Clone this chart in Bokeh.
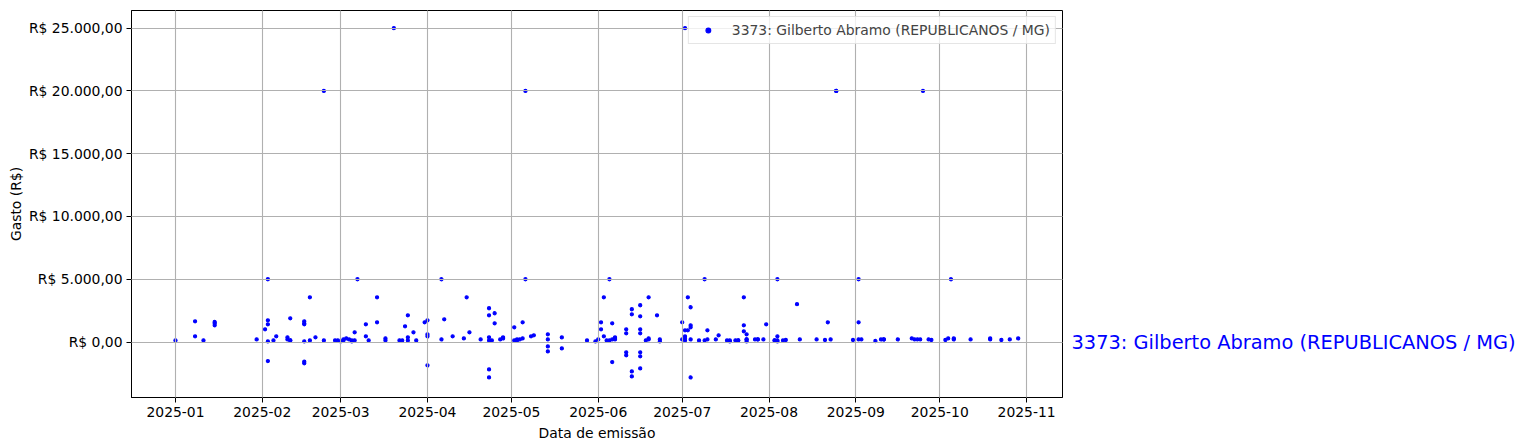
from datetime import datetime
from bokeh.plotting import figure
from bokeh.models import (Range1d, MonthsTicker, DatetimeTickFormatter, FixedTicker,
                          Legend, LegendItem, ColumnDataSource, LinearAxis)
from bokeh.embed import file_html
from bokeh.resources import INLINE

# ---------------- data ----------------
dates = [
    "2025-01-01", "2025-01-08", "2025-01-08", "2025-01-11", "2025-01-15", "2025-01-15", "2025-01-15",
    "2025-01-30",
    "2025-02-02", "2025-02-03", "2025-02-03", "2025-02-03", "2025-02-03", "2025-02-03",
    "2025-02-05", "2025-02-06", "2025-02-10", "2025-02-10", "2025-02-11", "2025-02-11", "2025-02-11",
    "2025-02-16", "2025-02-16", "2025-02-16", "2025-02-16", "2025-02-16", "2025-02-16",
    "2025-02-18", "2025-02-18", "2025-02-20", "2025-02-23", "2025-02-23", "2025-02-27", "2025-02-28",
    "2025-03-01", "2025-03-02", "2025-03-02", "2025-03-03", "2025-03-04", "2025-03-05", "2025-03-05",
    "2025-03-06", "2025-03-06", "2025-03-07", "2025-03-10", "2025-03-10", "2025-03-11",
    "2025-03-14", "2025-03-14", "2025-03-17", "2025-03-17", "2025-03-20", "2025-03-22", "2025-03-23",
    "2025-03-24", "2025-03-25", "2025-03-25", "2025-03-25", "2025-03-27", "2025-03-28", "2025-03-31",
    "2025-04-01", "2025-04-01", "2025-04-01", "2025-04-01",
    "2025-04-06", "2025-04-06", "2025-04-07", "2025-04-10", "2025-04-14", "2025-04-15", "2025-04-16",
    "2025-04-20", "2025-04-23", "2025-04-23", "2025-04-23", "2025-04-23", "2025-04-23", "2025-04-23",
    "2025-04-24", "2025-04-25", "2025-04-25", "2025-04-27", "2025-04-28", "2025-04-28",
    "2025-05-02", "2025-05-02", "2025-05-03", "2025-05-03", "2025-05-04", "2025-05-05", "2025-05-05",
    "2025-05-06", "2025-05-06", "2025-05-08", "2025-05-09",
    "2025-05-14", "2025-05-14", "2025-05-14", "2025-05-14", "2025-05-19", "2025-05-19",
    "2025-05-28", "2025-05-31",
    "2025-06-01", "2025-06-02", "2025-06-02", "2025-06-03", "2025-06-03", "2025-06-04", "2025-06-05",
    "2025-06-05", "2025-06-06", "2025-06-06", "2025-06-06", "2025-06-07", "2025-06-07", "2025-06-07",
    "2025-06-11", "2025-06-11", "2025-06-11", "2025-06-11",
    "2025-06-13", "2025-06-13", "2025-06-13", "2025-06-13",
    "2025-06-16", "2025-06-16", "2025-06-16", "2025-06-16", "2025-06-16", "2025-06-16", "2025-06-16",
    "2025-06-18", "2025-06-19", "2025-06-19", "2025-06-19", "2025-06-22", "2025-06-23", "2025-06-23",
    "2025-07-01", "2025-07-01", "2025-07-02", "2025-07-02", "2025-07-02", "2025-07-02", "2025-07-02",
    "2025-07-03", "2025-07-03", "2025-07-04", "2025-07-04", "2025-07-04", "2025-07-04", "2025-07-04",
    "2025-07-07", "2025-07-09", "2025-07-09", "2025-07-10", "2025-07-10", "2025-07-13", "2025-07-14",
    "2025-07-17", "2025-07-18", "2025-07-18", "2025-07-20", "2025-07-21", "2025-07-21",
    "2025-07-23", "2025-07-23", "2025-07-23", "2025-07-24", "2025-07-24", "2025-07-24", "2025-07-24",
    "2025-07-27", "2025-07-28", "2025-07-28", "2025-07-30", "2025-07-31",
    "2025-08-03", "2025-08-03", "2025-08-04", "2025-08-04", "2025-08-04", "2025-08-04",
    "2025-08-06", "2025-08-07", "2025-08-11", "2025-08-12", "2025-08-18", "2025-08-21", "2025-08-22",
    "2025-08-23", "2025-08-25", "2025-08-25", "2025-08-31",
    "2025-09-02", "2025-09-02", "2025-09-02", "2025-09-03", "2025-09-08", "2025-09-10", "2025-09-11",
    "2025-09-11", "2025-09-16", "2025-09-21", "2025-09-22", "2025-09-23", "2025-09-24", "2025-09-25",
    "2025-09-27", "2025-09-28",
    "2025-10-03", "2025-10-04", "2025-10-05", "2025-10-06", "2025-10-06", "2025-10-12", "2025-10-19",
    "2025-10-19", "2025-10-23", "2025-10-26", "2025-10-29",
]
amounts = [
    130, 450, 1650, 130, 1600, 1490, 1330,
    210,
    1010, 1730, 1410, 50, -1520, 5000,
    130, 450, 370, 210, 130, 130, 1890,
    1650, 1490, 1410, 50, -1570, -1700,
    3560, 130, 370, 130, 20000, 130, 130,
    50, 130, 210, 290, 210, 50, 130,
    130, 770, 5000, 450, 1410, 130,
    3560, 1570, 290, 130, 25000, 130, 130,
    1250, 2130, 370, 130, 770, 130, 1570,
    1730, 610, 450, -1860,
    5000, 210, 1810, 450, 290, 3560, 770,
    210, 370, 130, 2690, 2130, -2180, -2820,
    130, 2290, 1490, 210, 290, 370,
    1170, 130, 130, 210, 210, 290, 1570,
    20000, 5000, 450, 530,
    610, 210, -350, -750, 370, -510,
    130, 50,
    210, 1570, 1010, 3560, 450, 130, 130,
    5000, 210, 1490, -1600, 210, 290, 370,
    1010, 690, -820, -1060,
    2610, 2210, -2340, -2740,
    2930, 2050, 1010, 690, -820, -1140, -2100,
    130, 210, 290, 3560, 2130, 210, 50,
    1570, 210, 290, 450, 130, 930, 25000,
    930, 3560, 2770, 1330, 1170, -2820, 210,
    130, 130, 5000, 930, 210, 210, 530,
    130, 130, 50, 130, 130, 130,
    3560, 1330, 850, 50, 610, 210, 210,
    210, 210, 210, 210, 1410,
    130, 130, 50, 450, 130, 5000,
    130, 160, 3010, 210, 210, 160, 1570,
    210, 20000, 20000, 160,
    210, 5000, 1570, 210, 80, 210, 210,
    210, 210, 290, 210, 210, 210, 20000,
    210, 160,
    160, 290, 5000, 290, 210, 210, 290,
    210, 160, 210, 290,
]
series_name = "3373: Gilberto Abramo (REPUBLICANOS / MG)"
y_ticks = [0, 5000, 10000, 15000, 20000, 25000]
y_tick_labels = ["R$ 0,00", "R$ 5.000,00", "R$ 10.000,00", "R$ 15.000,00",
                 "R$ 20.000,00", "R$ 25.000,00"]
x_label = "Data de emissão"
y_label = "Gasto (R$)"

# ---------------- plot ----------------
FONT = "DejaVu Sans"
FS = "13.9px"
x_dt = [datetime.strptime(d, "%Y-%m-%d") for d in dates]
src = ColumnDataSource(dict(x=x_dt, y=amounts))

x_start = datetime(2024, 12, 16, 7)
x_end = datetime(2025, 11, 13, 20)

p = figure(output_backend="svg", toolbar_location=None,
           x_axis_type="datetime",
           x_range=Range1d(x_start, x_end), y_range=Range1d(-4420, 26410),
           frame_width=931, frame_height=387,
           min_border_left=131, min_border_right=457,
           min_border_top=10, min_border_bottom=48)
p.background_fill_color = "white"
p.border_fill_color = "white"
p.outline_line_color = "black"
p.outline_line_width = 1

r = p.scatter("x", "y", source=src, size=3.2, fill_color="#0000ff",
              line_color="#0000ff", line_width=1.1)

p.xaxis.ticker = MonthsTicker(months=list(range(12)))
p.xaxis.formatter = DatetimeTickFormatter(months="%Y-%m", days="%Y-%m")
p.yaxis.ticker = FixedTicker(ticks=y_ticks)
p.yaxis.major_label_overrides = {t: l for t, l in zip(y_ticks, y_tick_labels)}

for ax in (p.xaxis, p.yaxis):
    ax.axis_line_color = "black"
    ax.axis_line_width = 1
    ax.major_tick_line_color = "black"
    ax.major_tick_out = 5
    ax.major_tick_in = 0
    ax.minor_tick_out = 0
    ax.minor_tick_in = 0
    ax.major_label_standoff = 4
    ax.major_label_text_font = FONT
    ax.major_label_text_font_size = FS
    ax.major_label_text_color = "black"
    ax.axis_label_text_font = FONT
    ax.axis_label_text_font_size = FS
    ax.axis_label_text_font_style = "normal"
    ax.axis_label_text_color = "black"
p.xaxis.axis_label = x_label
p.yaxis.axis_label = y_label
p.xaxis.axis_label_standoff = 5
p.yaxis.axis_label_standoff = 2

for g in (p.xgrid, p.ygrid):
    g.grid_line_color = "#b0b0b0"
    g.grid_line_width = 1.1
    g.level = "guide"
p.xgrid.ticker = p.xaxis.ticker
p.ygrid.ticker = p.yaxis.ticker

legend = Legend(items=[LegendItem(label=series_name, renderers=[r])],
                location="top_right")
legend.margin = 6
legend.padding = 5
legend.spacing = 0
legend.glyph_width = 28
legend.glyph_height = 12
legend.label_standoff = 10
legend.label_text_font = FONT
legend.label_text_font_size = FS
legend.label_height = 14
legend.border_line_color = "#cccccc"
legend.border_line_width = 1
legend.background_fill_alpha = 0.8
p.add_layout(legend)

# series name shown next to the zero line, right of the frame
side_axis = LinearAxis(ticker=FixedTicker(ticks=[0]),
                       major_label_overrides={0: series_name})
side_axis.axis_line_color = None
side_axis.major_tick_line_color = None
side_axis.minor_tick_line_color = None
side_axis.major_tick_out = 0
side_axis.major_tick_in = 0
side_axis.minor_tick_out = 0
side_axis.major_label_standoff = 9
side_axis.major_label_text_color = "#0000ff"
side_axis.major_label_text_font = FONT
side_axis.major_label_text_font_size = "19.4px"
p.add_layout(side_axis, "right")

open("out.html", "w").write(file_html(p, INLINE))
